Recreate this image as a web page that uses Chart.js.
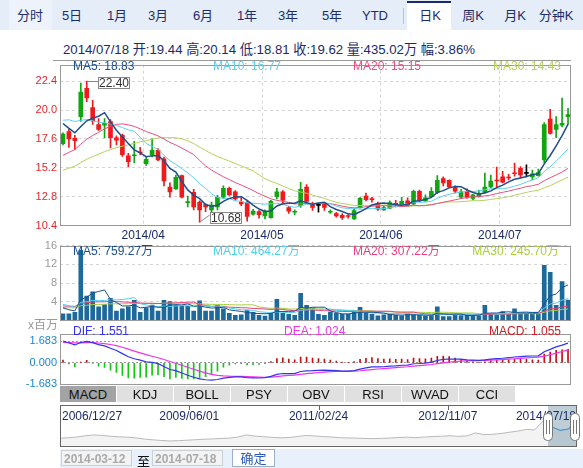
<!DOCTYPE html>
<html>
<head>
<meta charset="utf-8">
<title>日K</title>
<script src="https://cdn.jsdelivr.net/npm/chart.js@4.4.1/dist/chart.umd.min.js"></script>
<style>
  html, body { margin: 0; padding: 0; background: #fff; }
  body { font-family: "Liberation Sans", Arial, "Noto Sans CJK SC", sans-serif; }
  #page { position: relative; width: 583px; height: 468px; overflow: hidden; }
  #periods { position: absolute; left: 0; top: 0; width: 583px; height: 30px; background: #e4edf8; }
  #periods .t { position: absolute; top: 0; height: 30px; line-height: 31px; font-size: 13px; color: #1d2c6b; transform: translateX(-50%); white-space: nowrap; }
  #periods .first { position: absolute; left: 9px; top: 0; width: 43px; height: 30px; background: #eef3fb; }
  #periods .on { position: absolute; left: 407px; top: 1px; width: 44px; height: 29px; background: #fff; border-top: 2px solid #1b2a6e; box-sizing: border-box; }
  #periods .sep { position: absolute; left: 403px; top: 8px; width: 1px; height: 16px; background: #b8c4d4; }
  #info { position: absolute; left: 63px; top: 39px; font-size: 13.2px; color: #1c2b69; white-space: nowrap; }
  #rule { position: absolute; left: 53px; top: 60px; width: 518px; height: 1px; background: #999; }
  canvas { position: absolute; left: 0; }
  #indTabs { position: absolute; left: 60px; top: 386px; height: 16px; }
  #indTabs div { position: absolute; top: 0; width: 56px; height: 16px; line-height: 17px; font-size: 13px; text-align: center; background: #e0e0e0; color: #111; }
  #indTabs div.on { background: #a3a3a3; }
  #range { position: absolute; left: 60px; top: 449px; width: 523px; height: 19px; background: #e8f1fb; font-size: 12px; }
  #range .inp { position: absolute; top: 1px; width: 71px; height: 16px; line-height: 16px; border: 1px solid #c8d0d8; background: #f3f3f3; color: #aaa; font-weight: bold; padding-left: 2px; box-sizing: border-box; }
  #range .to { position: absolute; left: 77px; top: 2px; font-size: 13px; color: #111; }
  #range .btn { position: absolute; left: 172px; top: 0; width: 43px; height: 18px; line-height: 18px; border: 1px solid #9ab0c8; background: #fff; color: #2a5ab8; text-align: center; font-size: 13px; box-sizing: border-box; }
</style>
</head>
<body>
<div id="page">
  <div id="periods">
    <div class="first"></div>
    <div class="on"></div>
    <div class="sep"></div>
    <span class="t" style="left:30px">分时</span>
    <span class="t" style="left:72px">5日</span>
    <span class="t" style="left:117px">1月</span>
    <span class="t" style="left:158px">3月</span>
    <span class="t" style="left:203px">6月</span>
    <span class="t" style="left:247px">1年</span>
    <span class="t" style="left:288px">3年</span>
    <span class="t" style="left:332px">5年</span>
    <span class="t" style="left:375px">YTD</span>
    <span class="t" style="left:430px">日K</span>
    <span class="t" style="left:473px">周K</span>
    <span class="t" style="left:515px">月K</span>
    <span class="t" style="left:556px">分钟K</span>
  </div>
  <div id="info"></div>
  <canvas id="priceChart" width="583" height="185" style="top:55px"></canvas>
  <div id="rule"></div>
  <canvas id="volumeChart" width="583" height="94" style="top:236px"></canvas>
  <canvas id="macdChart" width="583" height="70" style="top:324px"></canvas>
  <div id="indTabs"></div>
  <canvas id="navChart" width="583" height="45" style="top:404px"></canvas>
  <div id="range">
    <div class="inp" id="fromDate" style="left:1px"></div>
    <div class="to">至</div>
    <div class="inp" id="toDate" style="left:92px"></div>
    <div class="btn">确定</div>
  </div>
</div>
<script>
// trading days shown (HK calendar)
const dates = [
  '2014-03-12','2014-03-13','2014-03-14','2014-03-17','2014-03-18','2014-03-19','2014-03-20','2014-03-21','2014-03-24','2014-03-25','2014-03-26','2014-03-27','2014-03-28','2014-03-31',
  '2014-04-01','2014-04-02','2014-04-03','2014-04-04','2014-04-07','2014-04-08','2014-04-09','2014-04-10','2014-04-11','2014-04-14','2014-04-15','2014-04-16','2014-04-17','2014-04-22','2014-04-23','2014-04-24','2014-04-25','2014-04-28','2014-04-29','2014-04-30',
  '2014-05-02','2014-05-05','2014-05-07','2014-05-08','2014-05-09','2014-05-12','2014-05-13','2014-05-14','2014-05-15','2014-05-16','2014-05-19','2014-05-20','2014-05-21','2014-05-22','2014-05-23','2014-05-26','2014-05-27','2014-05-28','2014-05-29','2014-05-30',
  '2014-06-03','2014-06-04','2014-06-05','2014-06-06','2014-06-09','2014-06-10','2014-06-11','2014-06-12','2014-06-13','2014-06-16','2014-06-17','2014-06-18','2014-06-19','2014-06-20','2014-06-23','2014-06-24','2014-06-25','2014-06-26','2014-06-27','2014-06-30',
  '2014-07-02','2014-07-03','2014-07-04','2014-07-07','2014-07-08','2014-07-09','2014-07-10','2014-07-14','2014-07-15','2014-07-16','2014-07-17','2014-07-18'
];

const opens = [
  17.2, 18.2, 17.65, 19.45, 21.8, 20.2, 18.8, 18.75, 19.05, 17.7,
  17.9, 16.2, 16.2, 16.5, 15.55, 16.25, 16.65, 15.95, 13.6, 13.45,
  14.55, 12.3, 13.15, 12.35, 12.15, 11.7, 11.95, 12.75, 13.5, 13.2,
  12.35, 12.3, 11.35, 11.55, 11.2, 11.05, 12.8, 13.2, 11.9, 11.5,
  12.05, 13.6, 12.2, 12.1, 12.2, 11.5, 11.4, 11.25, 11.2, 10.95,
  11.9, 12.85, 12.6, 12.25, 11.7, 11.85, 12.25, 12.1, 12.45, 12.2,
  13.25, 12.45, 12.8, 13.15, 14.3, 14.15, 13.55, 12.75, 13.25, 12.65,
  12.8, 13.15, 13.6, 14.15, 14.45, 14.4, 14.75, 15.15, 14.75, 14.45,
  14.55, 15.85, 19.25, 18.4, 18.75, 19.44
];
const highs = [
  18.1, 18.4, 17.9, 22.25, 22.4, 20.8, 19.3, 19.3, 19.2, 17.85,
  18.0, 16.4, 17.4, 16.9, 16.1, 17.6, 16.8, 16.1, 13.95, 14.6,
  14.6, 12.85, 13.4, 12.45, 12.2, 12.35, 12.9, 13.7, 13.6, 13.3,
  12.7, 12.45, 11.75, 11.65, 11.7, 12.5, 13.5, 13.3, 12.0, 11.7,
  14.0, 13.8, 12.35, 12.2, 12.3, 11.7, 11.5, 11.4, 11.3, 11.8,
  12.75, 13.1, 12.75, 12.35, 12.05, 12.45, 12.5, 12.75, 12.7, 13.35,
  13.35, 12.95, 13.55, 14.55, 14.45, 14.2, 13.7, 13.4, 13.45, 13.0,
  13.35, 14.75, 14.6, 15.25, 14.9, 14.65, 15.6, 15.3, 15.45, 15.0,
  15.1, 18.95, 20.05, 19.45, 21.0, 20.14
];
const lows = [
  17.1, 16.9, 16.7, 19.05, 20.7, 18.8, 18.3, 17.7, 16.85, 17.1,
  16.15, 15.3, 15.6, 16.3, 15.4, 16.1, 15.8, 13.7, 12.75, 13.4,
  12.7, 11.95, 11.7, 10.68, 11.55, 11.4, 11.7, 12.65, 12.9, 12.5,
  12.05, 10.75, 11.25, 11.0, 10.95, 11.0, 12.6, 12.2, 11.4, 11.3,
  11.9, 12.3, 11.65, 11.5, 11.65, 11.4, 11.1, 10.9, 11.0, 10.9,
  11.85, 12.45, 12.35, 11.65, 11.65, 11.8, 11.95, 12.05, 12.0, 12.1,
  12.4, 12.4, 12.75, 13.05, 13.7, 13.55, 13.1, 12.65, 12.65, 12.55,
  12.75, 13.1, 13.5, 13.55, 13.95, 14.2, 14.5, 14.35, 14.45, 14.2,
  14.5, 15.6, 18.0, 17.7, 18.6, 18.81
];
const closes = [
  18.0, 17.6, 17.45, 21.5, 21.0, 19.1, 18.4, 18.9, 17.7, 17.5,
  16.3, 15.7, 16.25, 16.45, 15.9, 16.65, 15.85, 14.1, 13.2, 14.4,
  12.75, 12.35, 11.95, 11.7, 11.95, 12.1, 12.75, 13.5, 12.95, 12.6,
  12.2, 11.15, 11.6, 11.3, 11.6, 12.4, 13.2, 12.5, 11.6, 11.55,
  13.4, 12.4, 11.9, 12.1, 11.9, 11.55, 11.2, 11.05, 11.15, 11.65,
  12.65, 12.55, 12.55, 11.75, 11.9, 12.3, 12.1, 12.4, 12.05, 13.25,
  12.45, 12.7, 13.25, 14.15, 13.95, 13.6, 13.25, 13.2, 12.75, 12.95,
  13.0, 13.6, 14.1, 14.1, 14.0, 14.35, 14.7, 14.6, 14.75, 14.7,
  14.8, 18.8, 18.05, 18.8, 18.89, 19.62
];
// volume, millions of shares
const volumes = [
  1.4, 1.4, 1.7, 15.0, 5.2, 6.1, 2.9, 3.4, 4.7, 2.0,
  2.5, 2.9, 4.3, 1.7, 2.7, 3.3, 2.0, 4.3, 4.0, 3.3,
  3.0, 3.0, 2.0, 4.2, 2.0, 2.0, 3.3, 2.5, 1.5, 1.1,
  1.2, 2.2, 1.7, 1.1, 0.9, 1.5, 4.5, 1.5, 1.3, 1.1,
  5.8, 3.2, 2.7, 1.3, 1.1, 1.8, 1.5, 1.3, 1.3, 1.8,
  2.8, 1.5, 1.3, 1.0, 1.2, 1.3, 1.1, 1.0, 1.4, 1.2,
  1.1, 0.9, 1.1, 2.9, 0.8, 0.8, 1.2, 1.05, 1.3, 1.0,
  1.0, 3.2, 1.4, 1.3, 1.9, 1.4, 2.5, 1.6, 1.5, 1.4,
  1.45, 11.8, 10.3, 3.2, 8.3, 4.3502
];
// the 29 sessions before 2014-03-12, needed for the averages at the left edge
const preCloses = [
  12.3, 12.4, 12.5, 12.6, 12.5, 12.4, 12.5, 12.6, 12.7, 12.6,
  12.5, 12.6, 12.7, 12.8, 12.9, 13.0, 13.2, 13.5, 14.2, 15.6,
  17.2, 18.9, 20.5, 20.4, 20.1, 19.6, 19.3, 18.9, 18.6
];
const preVolumes = [
  1.8, 2.0, 1.9, 2.1, 1.8, 2.0, 2.2, 1.9, 2.0, 2.1,
  2.3, 2.5, 2.2, 2.6, 2.8, 2.4, 3.0, 3.2, 2.9, 3.5,
  4.5, 5.0, 4.2, 3.8, 3.5, 3.4, 3.0, 2.8, 2.8
];

const priceTicks = [10.4, 12.8, 15.2, 17.6, 20.0, 22.4];
const volumeTicks = [4, 8, 12, 16];
const macdTicks = [-1.683, 0, 1.683];

const priceMaLabels = ['MA5: 18.83', 'MA10: 16.77', 'MA20: 15.15', 'MA30: 14.43'];
const volumeMaLabels = ['MA5: 759.27万', 'MA10: 464.27万', 'MA20: 307.22万', 'MA30: 245.70万'];
const macdLabels = ['DIF: 1.551', 'DEA: 1.024', 'MACD: 1.055'];

// long history for the range navigator (2006/12/27 .. 2014/07/18)
const navLabels = ['2006/12/27', '2009/06/01', '2011/02/24', '2012/11/07', '2014/07/18'];
const navCloses = [
  6.8, 7.2, 7.6, 8.4, 8.9, 8.6, 8.1, 7.7, 7.5, 7.0,
  6.3, 5.8, 5.4, 5.1, 5.3, 5.6, 5.9, 6.2, 6.4, 6.7,
  6.9, 7.6, 8.9, 8.2, 7.8, 7.4, 7.1, 7.3, 7.9, 8.6,
  8.3, 7.9, 7.6, 7.2, 7.0, 6.9, 6.7, 6.6, 6.8, 7.0,
  7.3, 7.5, 7.2, 7.6, 7.9, 8.1, 8.4, 8.0, 8.3, 10.2,
  9.1, 9.3, 9.8, 10.6, 11.3, 12.4, 12.1, 17.8, 14.0, 11.8,
  12.6, 19.6
];
const indicatorTabs = ['MACD', 'KDJ', 'BOLL', 'PSY', 'OBV', 'RSI', 'WVAD', 'CCI'];

const FONT = '"Liberation Sans", Arial, "Noto Sans CJK SC", sans-serif';
Chart.defaults.font.family = FONT;
Chart.defaults.animation = false;

const UP = '#11a511', DOWN = '#f01a1a', FLAT = '#000000';
const MA_COLORS = ['#1d4f8c', '#5cd0ee', '#ea4f7e', '#b3d35a'];

const movingAverage = (values, pre, n) => {
  const all = pre.concat(values);
  return values.map((_, i) => {
    const end = pre.length + i;
    let s = 0;
    for (let k = end - n + 1; k <= end; k++) s += all[k];
    return s / n;
  });
};

const macdSeries = (values, pre) => {
  const all = pre.concat(values);
  let e12 = all[0], e26 = all[0], dea = 0;
  const out = { dif: [], dea: [], hist: [] };
  all.forEach((c, k) => {
    e12 += (c - e12) * 2 / 13;
    e26 += (c - e26) * 2 / 27;
    const d = e12 - e26;
    dea += (d - dea) * 2 / 10;
    if (k >= pre.length) {
      out.dif.push(d);
      out.dea.push(dea);
      out.hist.push(2 * (d - dea));
    }
  });
  return out;
};

// header texts
const last = dates.length - 1;
const change = (closes[last] / closes[last - 1] - 1) * 100;
document.getElementById('info').textContent =
  `${dates[last].replace(/-/g, '/')} 开:${opens[last].toFixed(2)} 高:${highs[last].toFixed(2)} ` +
  `低:${lows[last].toFixed(2)} 收:${closes[last].toFixed(2)} 量:${(volumes[last] * 100).toFixed(2)}万 幅:${change.toFixed(2)}%`;
document.getElementById('fromDate').textContent = dates[0];
document.getElementById('toDate').textContent = dates[last];
document.getElementById('indTabs').innerHTML = indicatorTabs
  .map((t, i) => `<div class="${i === 0 ? 'on' : ''}" style="left:${i * 57}px">${t}</div>`).join('');

// month boundaries: grid lines sit on the left edge of each month's first session
const monthStarts = dates.map((d, i) => i).filter(i => i > 0 && dates[i].slice(5, 7) !== dates[i - 1].slice(5, 7));

const framePlugin = {
  id: 'frame',
  afterDraw(chart, args, opts) {
    const { ctx, chartArea: a } = chart;
    ctx.save();
    ctx.strokeStyle = opts.color || '#999';
    ctx.lineWidth = 1;
    ctx.strokeRect(Math.round(a.left) + 0.5, Math.round(a.top) + 0.5, Math.round(a.width) - 1, Math.round(a.height) - 1);
    ctx.restore();
  }
};
const textsPlugin = {
  id: 'texts',
  afterDraw(chart, args, opts) {
    const ctx = chart.ctx;
    ctx.save();
    ctx.font = `12px ${FONT}`;
    ctx.textBaseline = 'middle';
    (opts.items || []).forEach(it => {
      ctx.fillStyle = it.color;
      ctx.textAlign = it.align || 'left';
      ctx.fillText(it.text, it.x, it.y);
    });
    ctx.restore();
  }
};

const fixedWidth = w => scale => { scale.width = w; };
const monthTicks = scale => { scale.ticks = monthStarts.map(v => ({ value: v - 0.5 })); };
const monthLabel = v => dates[Math.round(v + 0.5)].slice(0, 7).replace('-', '/');

// ---------- price chart ----------
const candleColors = opens.map((o, i) => closes[i] > o ? UP : closes[i] < o ? DOWN : FLAT);
const bodies = opens.map((o, i) => o === closes[i] ? [o - 0.02, o + 0.02] : [o, closes[i]]);
const wicks = lows.map((l, i) => [l, highs[i]]);
const priceMAs = [5, 10, 20, 30].map(n => movingAverage(closes, preCloses, n));

const extremesPlugin = {
  id: 'extremes',
  afterDraw(chart) {
    const { ctx, scales: { x, y } } = chart;
    const hi = highs.indexOf(Math.max(...highs));
    const lo = lows.indexOf(Math.min(...lows));
    const box = (text, bx, by) => {
      ctx.fillStyle = '#fff';
      ctx.fillRect(bx, by, 32, 12);
      ctx.strokeStyle = '#888';
      ctx.strokeRect(bx + 0.5, by + 0.5, 31, 11);
      ctx.fillStyle = '#333';
      ctx.textAlign = 'center';
      ctx.textBaseline = 'middle';
      ctx.fillText(text, bx + 16, by + 6.5);
    };
    ctx.save();
    ctx.font = `12px ${FONT}`;
    ctx.lineWidth = 1;
    const hx = x.getPixelForValue(hi), hy = Math.round(y.getPixelForValue(highs[hi])) + 0.5;
    ctx.strokeStyle = '#888';
    ctx.beginPath(); ctx.moveTo(hx, hy); ctx.lineTo(hx + 12, hy); ctx.stroke();
    box(highs[hi].toFixed(2), Math.round(hx + 11), Math.round(hy - 5));
    const lx = x.getPixelForValue(lo), ly = y.getPixelForValue(lows[lo]);
    ctx.strokeStyle = '#888';
    ctx.beginPath(); ctx.moveTo(lx, ly); ctx.lineTo(lx + 10, ly - 7); ctx.stroke();
    box(lows[lo].toFixed(2), Math.round(lx + 10), Math.round(ly - 10));
    ctx.restore();
  }
};

new Chart(document.getElementById('priceChart'), {
  type: 'bar',
  data: {
    labels: dates,
    datasets: [
      ...priceMAs.map((d, k) => ({
        type: 'line', data: d, borderColor: MA_COLORS[k], borderWidth: k === 0 ? 1.5 : 1,
        pointRadius: 0, tension: 0, order: 0
      })),
      { data: bodies, backgroundColor: candleColors, barThickness: 4, grouped: false, minBarLength: 1, order: 1 },
      { data: wicks, backgroundColor: candleColors, barThickness: 1, grouped: false, order: 2 }
    ]
  },
  options: {
    responsive: false,
    devicePixelRatio: 1,
    layout: { autoPadding: false, padding: { top: 5, right: 12, left: 0, bottom: 0 } },
    plugins: {
      legend: { display: false },
      tooltip: { enabled: false },
      frame: { color: '#999' },
      texts: {
        items: [
          { text: priceMaLabels[0], color: MA_COLORS[0], x: 73, y: 12 },
          { text: priceMaLabels[1], color: MA_COLORS[1], x: 213, y: 12 },
          { text: priceMaLabels[2], color: MA_COLORS[2], x: 353, y: 12 },
          { text: priceMaLabels[3], color: MA_COLORS[3], x: 561, y: 12, align: 'right' }
        ]
      }
    },
    scales: {
      x: {
        grid: { offset: false, color: '#d4d4d4', drawTicks: false },
        border: { display: false, dash: [3, 3] },
        afterBuildTicks: monthTicks,
        afterFit: s => { s.height = 14.5; },
        ticks: { autoSkip: false, maxRotation: 0, padding: 3, color: '#1c2b69', font: { size: 12 }, callback: monthLabel }
      },
      y: {
        min: 10.4, max: 23.78,
        afterBuildTicks: s => { s.ticks = priceTicks.map(v => ({ value: v })); },
        afterFit: fixedWidth(60),
        grid: { color: '#d4d4d4', drawTicks: false },
        border: { display: false, dash: [3, 3] },
        ticks: { color: '#e8262a', font: { size: 11 }, padding: 3, callback: v => v.toFixed(1) }
      }
    }
  },
  plugins: [framePlugin, textsPlugin, extremesPlugin]
});

// ---------- volume chart ----------
const volumeMAs = [5, 10, 20, 30].map(n => movingAverage(volumes, preVolumes, n));
const VOL_COLORS = ['#1d4f8c', '#4fd0ee', '#ea3f78', '#a8cf3c'];

new Chart(document.getElementById('volumeChart'), {
  type: 'bar',
  data: {
    labels: dates,
    datasets: [
      ...volumeMAs.map((d, k) => ({
        type: 'line', data: d, borderColor: VOL_COLORS[k], borderWidth: 1,
        pointRadius: 0, tension: 0, order: 0
      })),
      { data: volumes, backgroundColor: '#1c6a9c', barThickness: 4, order: 1 }
    ]
  },
  options: {
    responsive: false,
    devicePixelRatio: 1,
    layout: { autoPadding: false, padding: { top: 8, right: 12, left: 0, bottom: 5.5 } },
    plugins: {
      legend: { display: false },
      tooltip: { enabled: false },
      frame: { color: '#999' },
      texts: {
        items: [
          { text: volumeMaLabels[0], color: VOL_COLORS[0], x: 73, y: 15.5 },
          { text: volumeMaLabels[1], color: VOL_COLORS[1], x: 213, y: 15.5 },
          { text: volumeMaLabels[2], color: VOL_COLORS[2], x: 353, y: 15.5 },
          { text: volumeMaLabels[3], color: VOL_COLORS[3], x: 559, y: 15.5, align: 'right' },
          { text: 'x百万', color: '#999', x: 58, y: 90, align: 'right' }
        ]
      }
    },
    scales: {
      x: {
        grid: { offset: false, color: '#d4d4d4', drawTicks: false },
        border: { display: false, dash: [3, 3] },
        afterBuildTicks: monthTicks,
        afterFit: s => { s.height = 0; },
        ticks: { display: false }
      },
      y: {
        min: 0, max: 16,
        afterBuildTicks: s => { s.ticks = volumeTicks.map(v => ({ value: v })); },
        afterFit: fixedWidth(60),
        grid: { color: '#d4d4d4', drawTicks: false },
        border: { display: false, dash: [3, 3] },
        ticks: { color: '#999', font: { size: 11 }, padding: 3 }
      }
    }
  },
  plugins: [framePlugin, textsPlugin]
});

// ---------- MACD chart ----------
const macd = macdSeries(closes, preCloses);

new Chart(document.getElementById('macdChart'), {
  type: 'bar',
  data: {
    labels: dates,
    datasets: [
      { type: 'line', data: macd.dif, borderColor: '#3333ee', borderWidth: 1.2, pointRadius: 0, order: 0 },
      { type: 'line', data: macd.dea, borderColor: '#ee33ee', borderWidth: 1.2, pointRadius: 0, order: 0 },
      { data: macd.hist, backgroundColor: macd.hist.map(v => v >= 0 ? '#c41010' : '#10c810'), barThickness: 1, order: 1 }
    ]
  },
  options: {
    responsive: false,
    devicePixelRatio: 1,
    layout: { autoPadding: false, padding: { top: 3, right: 12, left: 0, bottom: 8.5 } },
    plugins: {
      legend: { display: false },
      tooltip: { enabled: false },
      frame: { color: '#999' },
      texts: {
        items: [
          { text: macdLabels[0], color: '#3333ee', x: 73, y: 8 },
          { text: macdLabels[1], color: '#ee33ee', x: 284, y: 8 },
          { text: macdLabels[2], color: '#cc2020', x: 561, y: 8, align: 'right' }
        ]
      }
    },
    scales: {
      x: { display: false, afterFit: s => { s.height = 0; } },
      y: {
        min: -1.683, max: 2.28,
        afterBuildTicks: s => { s.ticks = macdTicks.map(v => ({ value: v })); },
        afterFit: fixedWidth(60),
        grid: { color: '#9a9a9a', drawTicks: false },
        border: { display: false, dash: [2, 2] },
        ticks: { color: '#1a86cc', font: { size: 11 }, padding: 3, callback: v => v.toFixed(3) }
      }
    }
  },
  plugins: [framePlugin, textsPlugin]
});

// ---------- range navigator ----------
const SEL_FROM = 0.944;
const navPlugin = {
  id: 'nav',
  afterDraw(chart) {
    const { ctx, chartArea: a } = chart;
    ctx.save();
    const sx = Math.round(a.left + a.width * SEL_FROM);
    ctx.fillStyle = 'rgba(135,165,180,0.55)';
    ctx.fillRect(sx, a.top, a.right - sx, a.height);
    const meta = chart.getDatasetMeta(0);
    ctx.strokeStyle = '#3d8fd0';
    ctx.lineWidth = 1;
    ctx.beginPath();
    meta.data.forEach((p, i) => {
      if (p.x < sx - 8) return;
      if (i && meta.data[i - 1].x >= sx - 8) ctx.lineTo(p.x, p.y); else ctx.moveTo(p.x, p.y);
    });
    ctx.stroke();
    ctx.strokeStyle = '#666';
    ctx.strokeRect(Math.round(a.left) + 0.5, Math.round(a.top) + 0.5, Math.round(a.width) - 1, Math.round(a.height) - 1);
    ctx.font = `12px ${FONT}`;
    ctx.fillStyle = '#1c2b69';
    ctx.textBaseline = 'middle';
    navLabels.forEach((t, i) => {
      const px = a.left + a.width * i / (navLabels.length - 1);
      const inner = i > 0 && i < navLabels.length - 1;
      if (inner) {
        ctx.beginPath(); ctx.moveTo(Math.round(px) + 0.5, a.top); ctx.lineTo(Math.round(px) + 0.5, a.top + 5); ctx.stroke();
      }
      ctx.textAlign = i === 0 ? 'left' : inner ? 'center' : 'right';
      ctx.fillText(t, i === 0 ? px + 2 : inner ? px : px - 1, a.top + 12);
    });
    const handle = hx => {
      ctx.fillStyle = '#fff';
      ctx.strokeStyle = '#777';
      ctx.beginPath();
      ctx.roundRect(hx - 4.5, a.top + 8.5, 9, 27, 4);
      ctx.fill(); ctx.stroke();
      ctx.beginPath();
      ctx.moveTo(hx - 1.5, a.top + 15); ctx.lineTo(hx - 1.5, a.top + 29);
      ctx.moveTo(hx + 1.5, a.top + 15); ctx.lineTo(hx + 1.5, a.top + 29);
      ctx.stroke();
    };
    handle(sx);
    handle(Math.round(a.right) - 2);
    ctx.restore();
  }
};

new Chart(document.getElementById('navChart'), {
  type: 'line',
  data: {
    labels: navCloses.map((_, i) => i),
    datasets: [{
      data: navCloses, borderColor: '#b9b9b9', borderWidth: 1, pointRadius: 0,
      fill: 'start', backgroundColor: 'rgba(235,235,235,0.6)'
    }]
  },
  options: {
    responsive: false,
    devicePixelRatio: 1,
    layout: { autoPadding: false, padding: { top: 1, right: 6, left: 60, bottom: 2 } },
    plugins: { legend: { display: false }, tooltip: { enabled: false } },
    scales: {
      x: { display: false },
      y: { display: false, min: 1.3, max: 27.8 }
    }
  },
  plugins: [navPlugin]
});
</script>
</body>
</html>
